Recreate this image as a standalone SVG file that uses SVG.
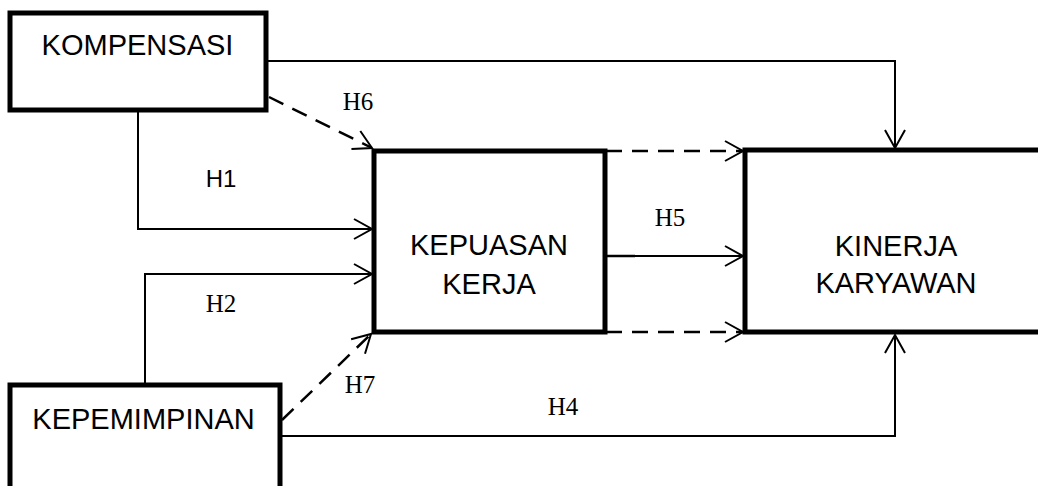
<svg xmlns="http://www.w3.org/2000/svg" width="1038" height="486" viewBox="0 0 1038 486">
<style>
.box{fill:#fff;stroke:#000;stroke-width:5}
.lbl{font-family:"Liberation Sans",Arial,sans-serif;font-size:29px;fill:#000;text-anchor:middle}
.h{font-family:"Liberation Serif","Times New Roman",serif;font-size:25px;fill:#000;text-anchor:middle}
.hs{font-family:"Liberation Sans",Arial,sans-serif;font-size:24px;fill:#000;text-anchor:middle}
.c{fill:none;stroke:#000;stroke-width:2;marker-end:url(#arr)}
.d{fill:none;stroke:#000;stroke-width:2.5;stroke-dasharray:16 10;marker-end:url(#arr)}
</style>
<defs>
<marker id="arr" markerUnits="userSpaceOnUse" viewBox="-22 -13 26 26" refX="0" refY="0" markerWidth="26" markerHeight="26" orient="auto">
<path d="M-18,-10 L0,0 L-18,10" fill="none" stroke="#000" stroke-width="2" stroke-dasharray="none"/>
</marker>
</defs>
<rect width="1038" height="486" fill="#fff"/>
<g id="connectors">
<path class="c" d="M266,61 H895 V148"/>
<path class="d" d="M269,97 L372,148"/>
<path class="c" d="M138,110 V229 H372"/>
<path class="c" d="M145,385 V274 H372"/>
<path class="d" d="M282,420 L371,334"/>
<path class="d" d="M606,151 H743"/>
<path class="d" d="M606,332 H743"/>
<path class="c" d="M606,256 H743"/>
<path d="M606,256 H635" fill="none" stroke="#000" stroke-width="2.5"/>
<path class="c" d="M282,436 H895 V335"/>
<text class="hs" x="221" y="187">H1</text>
<text class="h" x="221" y="312">H2</text>
<text class="h" x="358" y="110">H6</text>
<text class="h" x="360" y="393">H7</text>
<text class="h" x="670" y="226">H5</text>
<text class="h" x="563" y="415">H4</text>
</g>
<g id="kompensasi">
<rect class="box" x="10" y="13" width="256" height="97"/>
<text class="lbl" x="137.5" y="55">KOMPENSASI</text>
</g>
<g id="kepemimpinan">
<rect class="box" x="10" y="385" width="270" height="120"/>
<text class="lbl" x="143.5" y="429">KEPEMIMPINAN</text>
</g>
<g id="kepuasan">
<rect class="box" x="374" y="151" width="231" height="181"/>
<text class="lbl" x="489" y="255">KEPUASAN</text>
<text class="lbl" x="489" y="294">KERJA</text>
</g>
<g id="kinerja">
<rect class="box" x="745" y="150" width="320" height="182"/>
<text class="lbl" x="896" y="256">KINERJA</text>
<text class="lbl" x="896" y="293">KARYAWAN</text>
</g>
</svg>
